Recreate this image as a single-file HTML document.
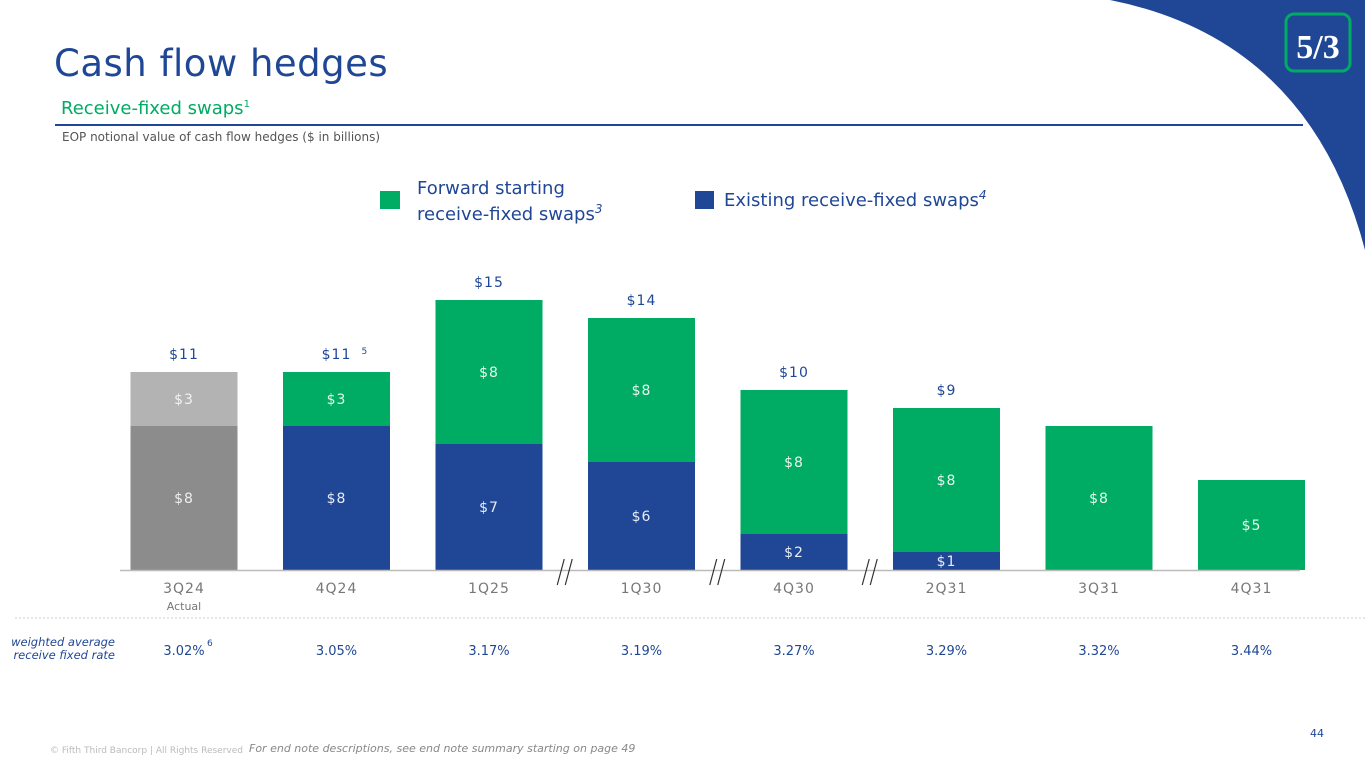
<!DOCTYPE html>
<html><head><meta charset="utf-8">
<style>
body{margin:0;width:1365px;height:768px;overflow:hidden;background:#fff;font-family:"DejaVu Sans","Liberation Sans",sans-serif;position:relative}
.abs{position:absolute}
</style></head>
<body>
<svg class="abs" style="left:0;top:0" width="1365" height="768">
  <path d="M1110,0 Q1310,40 1365,250 L1365,0 Z" fill="#1f4796"/>
  <g>
    <rect x="1286" y="14" width="64" height="57" rx="8" fill="#1f4796" stroke="#00ab63" stroke-width="3"/>
    <text x="1318" y="58" text-anchor="middle" font-size="34" font-weight="bold" fill="#fff" font-family="Liberation Serif,serif">5/3</text>
  </g>
  <line x1="55" y1="125" x2="1303" y2="125" stroke="#1f4796" stroke-width="2"/>
  <line x1="15" y1="618" x2="1365" y2="618" stroke="#ccc" stroke-width="1" stroke-dasharray="2,2"/>
</svg>
<div class="abs" style="left:54px;top:42px;font-size:37px;color:#1f4796;letter-spacing:0.5px">Cash flow hedges</div>
<div class="abs" style="left:61px;top:98px;font-size:18px;color:#00ab63">Receive-fixed swaps<sup style="font-size:10px">1</sup></div>
<div class="abs" style="left:62px;top:130px;font-size:12px;color:#555">EOP notional value of cash flow hedges ($ in billions)</div>

<div class="abs" style="left:380px;top:191px;width:20px;height:18px;background:#00ab63"></div>
<div class="abs" style="left:417px;top:178px;font-size:18px;line-height:21px;color:#1f4796">Forward starting<br>receive-fixed swaps<sup style="font-size:12px;font-style:italic">3</sup></div>
<div class="abs" style="left:695px;top:191px;width:19px;height:18px;background:#1f4796"></div>
<div class="abs" style="left:724px;top:188px;font-size:18px;color:#1f4796">Existing receive-fixed swaps<sup style="font-size:12px;font-style:italic">4</sup></div>

<svg id="chart" class="abs" style="left:0;top:0" width="1365" height="768"></svg>

<div class="abs" style="left:10px;top:636px;width:105px;text-align:right;font-size:11.5px;font-style:italic;color:#1f4796;line-height:13px">weighted average<br>receive fixed rate</div>
<div class="abs" style="left:1310px;top:727px;font-size:11px;color:#1f4796">44</div>
<div class="abs" style="left:50px;top:746px;font-size:9px;color:#bbb">© Fifth Third Bancorp | All Rights Reserved</div>
<div class="abs" style="left:249px;top:742px;font-size:11px;font-style:italic;color:#888">For end note descriptions, see end note summary starting on page 49</div>

<script>
const categories=["3Q24","4Q24","1Q25","1Q30","4Q30","2Q31","3Q31","4Q31"];
const existing=[8,8,7,6,2,1,0,0];
const forward=[3,3,8,8,8,8,8,5];
const totals=["$11","$11","$15","$14","$10","$9","",""];
const rates=["3.02%","3.05%","3.17%","3.19%","3.27%","3.29%","3.32%","3.44%"];
const NS="http://www.w3.org/2000/svg";
const svg=document.getElementById('chart');
const base=570,unit=18,x0=184,step=152.5,bw=107;
const xs=i=>x0+i*step;
const ys=v=>v*unit;
function mk(tag,attrs){const e=document.createElementNS(NS,tag);for(const k in attrs)e.setAttribute(k,attrs[k]);svg.appendChild(e);return e;}
function txt(x,y,s,fill,size){const t=mk('text',{x:x,y:y,'text-anchor':'middle','font-size':size,fill:fill,'font-family':'DejaVu Sans,Liberation Sans,sans-serif','letter-spacing':'1'});t.textContent=s;return t;}
categories.forEach((c,i)=>{
  const cx=xs(i),h1=ys(existing[i]),h2=ys(forward[i]);
  const actual=i===0;
  if(h1>0){
    const r=mk('rect',{x:cx-bw/2,y:base-h1,width:bw,height:h1,fill:actual?'#8c8c8c':'#1f4796'});
    
    
    const t=txt(cx,base-h1/2+5,'$'+existing[i],actual?'#eee':'#e8ecf5',14);
    
    
  }
  const r2=mk('rect',{x:cx-bw/2,y:base-h1-h2,width:bw,height:h2,fill:actual?'#b3b3b3':'#00ab63'});
  
  
  const t2=txt(cx,base-h1-h2/2+5,'$'+forward[i],actual?'#f2f2f2':'#e6f7ee',14);
  
  
  if(totals[i]){
    const t3=txt(cx,base-h1-h2-13,totals[i],'#1f4796',14);
    
    
  }
  const l=txt(cx,593,c,'#777',14);
  
  
  const rt=txt(cx,655,rates[i],'#1f4796',13);
  rt.setAttribute('letter-spacing','0');
  
  
});
const ax=mk('line',{x1:120,y1:base+0.5,x2:1300,y2:base+0.5,stroke:'#bbb','stroke-width':1.5});


const act=txt(xs(0),610,'Actual','#777',11);
act.setAttribute('letter-spacing','0');


const s1=mk('text',{x:xs(1)+25,y:354,'font-size':9,fill:'#1f4796'});s1.textContent='5';


const s2=mk('text',{x:xs(0)+23,y:646,'font-size':9,fill:'#1f4796'});s2.textContent='6';


[2.5,3.5,4.5].forEach(k=>{
  const bx=x0+k*step;
  const g=mk('path',{d:`M${bx-8},${585} L${bx-1},${559} M${bx},${585} L${bx+7},${559}`,stroke:'#333','stroke-width':1.2,fill:'none'});
  
  
});
</script>
</body></html>
